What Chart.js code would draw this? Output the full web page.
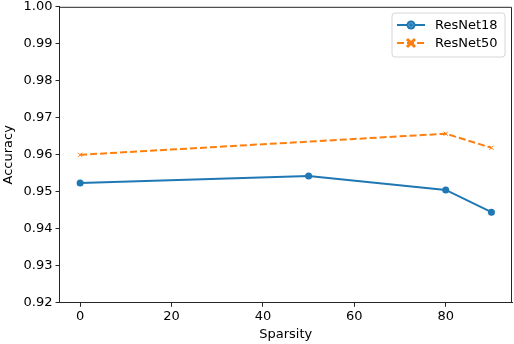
<!DOCTYPE html>
<html>
<head>
<meta charset="utf-8">
<script src="https://cdn.jsdelivr.net/npm/chart.js@4.4.1/dist/chart.umd.min.js"></script>
<style>
  html, body { margin: 0; padding: 0; background: #fff; }
  #wrap { width: 514px; height: 344px; position: relative; overflow: hidden; }
  #lienzo { position: absolute; left: 0; top: -4px; width: 517px; height: 348px; }
</style>
</head>
<body>
<div id="wrap"><div id="lienzo"><canvas id="grafico"></canvas></div></div>
<script>
// datos
const seriesNames = ['ResNet18', 'ResNet50'];
const sparsity18 = [0, 50, 80, 90];
const accuracy18 = [0.9524, 0.9543, 0.9505, 0.9445];
const sparsity50 = [0, 80, 90];
const accuracy50 = [0.9600, 0.9657, 0.9619];
const xTicks = [0, 20, 40, 60, 80];
const yTicks = [0.92, 0.93, 0.94, 0.95, 0.96, 0.97, 0.98, 0.99, 1.00];

const azul = '#1f77b4';
const naranja = '#ff7f0e';
const ejeColor = '#262626';
const fuente = { family: 'DejaVu Sans', size: 13 };

function puntos(xs, ys) {
    return xs.map((x, i) => ({ x: x, y: ys[i] }));
}

// marco superior/derecho y leyenda estilo matplotlib
const marcoYLeyenda = {
    id: 'marcoYLeyenda',
    afterDraw(chart) {
        const ctx = chart.ctx;
        const a = chart.chartArea;
        ctx.save();
        ctx.strokeStyle = ejeColor;
        ctx.lineWidth = 1;
        ctx.beginPath();
        ctx.moveTo(a.left, a.top + 0.5);
        ctx.lineTo(a.right - 0.5, a.top + 0.5);
        ctx.lineTo(a.right - 0.5, a.bottom);
        ctx.stroke();

        // caja de la leyenda (el lienzo esta desplazado 4px hacia arriba)
        const off = 4;
        const bx = 392, by = 13 + off, bw = 113, bh = 44, r = 3;
        ctx.beginPath();
        ctx.moveTo(bx + r, by);
        ctx.arcTo(bx + bw, by, bx + bw, by + bh, r);
        ctx.arcTo(bx + bw, by + bh, bx, by + bh, r);
        ctx.arcTo(bx, by + bh, bx, by, r);
        ctx.arcTo(bx, by, bx + bw, by, r);
        ctx.closePath();
        ctx.fillStyle = 'rgba(255,255,255,0.8)';
        ctx.fill();
        ctx.strokeStyle = '#d6d6d6';
        ctx.stroke();

        const filas = [
            { y: 25 + off, color: azul, dash: [], label: seriesNames[0], marca: 'circulo' },
            { y: 43 + off, color: naranja, dash: [7, 3], label: seriesNames[1], marca: 'cruz' }
        ];
        filas.forEach(f => {
            ctx.strokeStyle = f.color;
            ctx.lineWidth = 2;
            ctx.setLineDash(f.dash);
            ctx.beginPath();
            ctx.moveTo(397, f.y);
            ctx.lineTo(425, f.y);
            ctx.stroke();
            ctx.setLineDash([]);
            if (f.marca === 'circulo') {
                ctx.beginPath();
                ctx.arc(411, f.y, 4.5, 0, Math.PI * 2);
                ctx.fillStyle = f.color;
                ctx.fill();
                ctx.lineWidth = 1;
                ctx.strokeStyle = '#5fa0d0';
                ctx.beginPath();
                ctx.arc(411, f.y, 2.2, 0, Math.PI * 2);
                ctx.stroke();
            } else {
                ctx.lineWidth = 3;
                ctx.strokeStyle = f.color;
                ctx.beginPath();
                ctx.moveTo(407, f.y - 4); ctx.lineTo(415, f.y + 4);
                ctx.moveTo(415, f.y - 4); ctx.lineTo(407, f.y + 4);
                ctx.stroke();
            }
            ctx.fillStyle = '#000';
            ctx.font = '13px "DejaVu Sans"';
            ctx.textBaseline = 'middle';
            ctx.textAlign = 'left';
            ctx.fillText(f.label, 435, f.y + 1);
        });
        ctx.restore();
    }
};

new Chart(document.getElementById('grafico'), {
    type: 'line',
    data: {
        datasets: [{
            label: seriesNames[0],
            data: puntos(sparsity18, accuracy18),
            borderColor: azul,
            backgroundColor: azul,
            borderWidth: 2,
            pointStyle: 'circle',
            pointRadius: 3.5,
            pointBorderWidth: 0,
            tension: 0
        }, {
            label: seriesNames[1],
            data: puntos(sparsity50, accuracy50),
            borderColor: naranja,
            backgroundColor: naranja,
            borderWidth: 2,
            borderDash: [7, 3],
            pointStyle: 'crossRot',
            pointRadius: 3,
            pointBorderWidth: 1,
            tension: 0
        }]
    },
    options: {
        responsive: true,
        maintainAspectRatio: false,
        animation: false,
        layout: { padding: { top: 0, right: 1, bottom: 2, left: 1 } },
        plugins: {
            legend: { display: false },
            tooltip: { enabled: false }
        },
        scales: {
            x: {
                type: 'linear',
                min: -4.5,
                max: 94.5,
                afterBuildTicks: axis => { axis.ticks = xTicks.map(v => ({ value: v })); },
                grid: { drawOnChartArea: false, drawTicks: true, tickLength: 4, color: ejeColor },
                border: { display: true, color: ejeColor, width: 1 },
                ticks: { color: '#000', font: fuente, padding: 2, maxRotation: 0 },
                title: { display: true, text: 'Sparsity', color: '#000', font: fuente, padding: { top: 0, bottom: 0 } }
            },
            y: {
                min: 0.92,
                max: 1.00,
                afterBuildTicks: axis => { axis.ticks = yTicks.map(v => ({ value: v })); },
                grid: { drawOnChartArea: false, drawTicks: true, tickLength: 4, color: ejeColor },
                border: { display: true, color: ejeColor, width: 1 },
                ticks: { color: '#000', font: fuente, padding: 3, callback: v => v.toFixed(2) },
                title: { display: true, text: 'Accuracy', color: '#000', font: fuente, padding: { top: 0, bottom: 4 } }
            }
        }
    },
    plugins: [marcoYLeyenda]
});
</script>
</body>
</html>
